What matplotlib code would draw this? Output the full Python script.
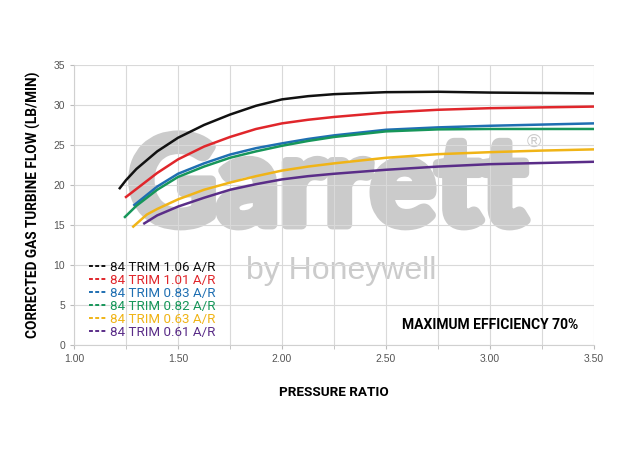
"""
Garrett 84 trim turbine flow map: corrected gas flow vs pressure ratio
for six A/R housings at 70% maximum efficiency.
"""

import matplotlib
matplotlib.use("Agg")
import matplotlib.pyplot as plt
import matplotlib.patheffects as pe
from matplotlib.lines import Line2D
from matplotlib.ticker import MultipleLocator, FormatStrFormatter

# data
labels = ["84 TRIM 1.06 A/R", "84 TRIM 1.01 A/R", "84 TRIM 0.83 A/R",
          "84 TRIM 0.82 A/R", "84 TRIM 0.63 A/R", "84 TRIM 0.61 A/R"]
colors = ["#111111", "#e0262b", "#1f6fb2", "#17965a", "#f0b417", "#5a2d88"]

pr_106 = [1.22, 1.25, 1.30, 1.40, 1.50, 1.625, 1.75, 1.875, 2.00, 2.125, 2.25, 2.50, 2.75, 3.00, 3.25, 3.50]
flow_106 = [19.6, 20.6, 22.0, 24.2, 25.9, 27.5, 28.8, 29.9, 30.7, 31.1, 31.35, 31.6, 31.65, 31.55, 31.5, 31.45]

pr_101 = [1.25, 1.30, 1.40, 1.50, 1.625, 1.75, 1.875, 2.00, 2.125, 2.25, 2.50, 2.75, 3.00, 3.25, 3.50]
flow_101 = [18.5, 19.5, 21.5, 23.2, 24.8, 26.0, 27.0, 27.7, 28.15, 28.5, 29.05, 29.4, 29.6, 29.7, 29.8]

pr_083 = [1.29, 1.40, 1.50, 1.625, 1.75, 1.875, 2.00, 2.125, 2.25, 2.50, 2.75, 3.00, 3.25, 3.50]
flow_083 = [17.5, 19.8, 21.4, 22.7, 23.8, 24.6, 25.2, 25.75, 26.2, 26.9, 27.2, 27.4, 27.55, 27.7]

pr_082 = [1.245, 1.30, 1.40, 1.50, 1.625, 1.75, 1.875, 2.00, 2.125, 2.25, 2.50, 2.75, 3.00, 3.25, 3.50]
flow_082 = [16.0, 17.4, 19.4, 21.0, 22.3, 23.4, 24.2, 24.9, 25.5, 26.0, 26.7, 26.95, 27.0, 27.0, 27.0]

pr_063 = [1.285, 1.35, 1.40, 1.50, 1.625, 1.75, 1.875, 2.00, 2.125, 2.25, 2.50, 2.75, 3.00, 3.25, 3.50]
flow_063 = [14.8, 16.3, 17.0, 18.2, 19.4, 20.3, 21.1, 21.8, 22.3, 22.7, 23.4, 23.85, 24.1, 24.3, 24.45]

pr_061 = [1.338, 1.40, 1.50, 1.625, 1.75, 1.875, 2.00, 2.125, 2.25, 2.50, 2.75, 3.00, 3.25, 3.50]
flow_061 = [15.2, 16.2, 17.3, 18.4, 19.4, 20.1, 20.7, 21.1, 21.4, 21.9, 22.3, 22.6, 22.75, 22.9]

series = [(pr_106, flow_106), (pr_101, flow_101), (pr_083, flow_083),
          (pr_082, flow_082), (pr_063, flow_063), (pr_061, flow_061)]

NARROW = ["Roboto", "DejaVu Sans"]
plt.rcParams["font.family"] = ["Liberation Sans", "DejaVu Sans"]
WM = "#cbcbcb"

fig = plt.figure(figsize=(6.39, 4.55), dpi=100)
ax = fig.add_axes([0.1158, 0.2418, 0.8138, 0.6154])

# watermark, thickened with a stroke of the same colour
ax.text(0.488, 0.555, "Garrett", transform=ax.transAxes, ha="center", va="center",
        fontsize=88, fontweight="bold", family=["Lato", "DejaVu Sans"],
        color=WM, zorder=0.5,
        path_effects=[pe.withStroke(linewidth=7, foreground=WM)])
ax.text(0.885, 0.725, "\u00ae", transform=ax.transAxes, ha="center", va="center",
        fontsize=14, color=WM, zorder=0.5)
ax.text(0.513, 0.235, "by Honeywell", transform=ax.transAxes, ha="center",
        va="baseline", fontsize=23, color=WM, zorder=0.5)

for (x, y), c in zip(series, colors):
    ax.plot(x, y, color=c, lw=1.8, zorder=3, solid_joinstyle="round")

ax.set_xlim(1.0, 3.5)
ax.set_ylim(0, 35)
ax.xaxis.set_major_locator(MultipleLocator(0.5))
ax.xaxis.set_minor_locator(MultipleLocator(0.25))
ax.xaxis.set_major_formatter(FormatStrFormatter("%.2f"))
ax.yaxis.set_major_locator(MultipleLocator(5))
ax.grid(True, which="both", color="#d9d9d9", lw=0.8)
ax.tick_params(which="both", colors="#bbbbbb", labelcolor="#555555",
               labelsize=7.5, length=3)
for s in ax.spines.values():
    s.set_color("#d0d0d0")
ax.spines["top"].set_visible(False)
ax.spines["right"].set_visible(False)

ax.set_ylabel("CORRECTED GAS TURBINE FLOW (LB/MIN)", fontsize=9.8,
              fontweight="bold", family=NARROW, labelpad=9)
ax.set_xlabel("PRESSURE RATIO", fontsize=9.7, fontweight="bold",
              family=NARROW, labelpad=16)

handles = [Line2D([], [], color=c, lw=1.4, ls=(0, (2, 1.2))) for c in colors]
leg = ax.legend(handles, labels, loc="lower left", frameon=False,
                bbox_to_anchor=(0.005, -0.02), handlelength=1.3,
                handletextpad=0.3, labelspacing=0.0,
                prop={"family": "Roboto", "size": 9.6})
for txt, c in zip(leg.get_texts(), colors):
    txt.set_color(c)

ax.text(0.8, 0.07, "MAXIMUM EFFICIENCY 70%", transform=ax.transAxes,
        ha="center", va="center", fontsize=10, fontweight="bold",
        family=NARROW)

fig.savefig("out.png", dpi=100)
